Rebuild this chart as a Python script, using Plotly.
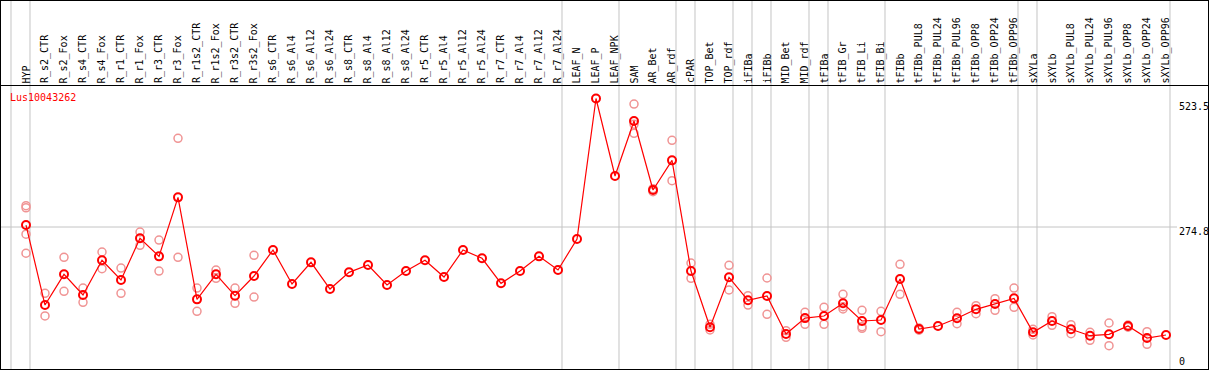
import plotly.graph_objects as go

# ---------------- data ----------------
categories = [
    "HYP", "R_s2_CTR", "R_s2_Fox", "R_s4_CTR", "R_s4_Fox", "R_r1_CTR", "R_r1_Fox",
    "R_r3_CTR", "R_r3_Fox", "R_r1s2_CTR", "R_r1s2_Fox", "R_r3s2_CTR", "R_r3s2_Fox",
    "R_s6_CTR", "R_s6_Al4", "R_s6_Al12", "R_s6_Al24", "R_s8_CTR", "R_s8_Al4",
    "R_s8_Al12", "R_s8_Al24", "R_r5_CTR", "R_r5_Al4", "R_r5_Al12", "R_r5_Al24",
    "R_r7_CTR", "R_r7_Al4", "R_r7_Al12", "R_r7_Al24", "LEAF_N", "LEAF_P", "LEAF_NPK",
    "SAM", "AR_Bet", "AR_rdf", "cPAR", "TOP_Bet", "TOP_rdf", "iFIBa", "iFIBb",
    "MID_Bet", "MID_rdf", "tFIBa", "tFIB_Gr", "tFIB_Li", "tFIB_Bi", "tFIBb",
    "tFIBb_PUL8", "tFIBb_PUL24", "tFIBb_PUL96", "tFIBb_OPP8", "tFIBb_OPP24",
    "tFIBb_OPP96", "sXYLa", "sXYLb", "sXYLb_PUL8", "sXYLb_PUL24", "sXYLb_PUL96",
    "sXYLb_OPP8", "sXYLb_OPP24", "sXYLb_OPP96",
]

mean_vals = [
    278.6, 123.8, 183.2, 143.2, 210.3, 172.2, 252.9, 218.0, 332.2, 134.8, 183.2,
    141.9, 180.0, 230.3, 164.5, 206.4, 154.8, 187.1, 201.2, 162.5, 189.6, 210.3,
    178.0, 230.3, 214.2, 165.8, 189.6, 218.0, 191.6, 251.6, 523.5, 373.5, 479.9,
    346.4, 403.8, 189.6, 80.7, 177.4, 132.9, 141.3, 67.7, 98.5, 102.6, 127.1,
    92.9, 94.8, 174.2, 77.4, 83.2, 98.1, 115.5, 125.8, 136.7, 71.0, 92.9, 76.8,
    64.4, 67.1, 83.2, 60.0, 65.8,
]

N = None
rep1 = [316.0, 146.4, 216.1, 156.7, 226.4, 195.4, 265.1, 249.6, 446.4, 156.7, 191.6,
        156.7, 220.0, N, N, N, N, N, N, N, N, N, N, N, N, N, N, N, N, N, N, N,
        512.8, 349.0, 442.5, 205.1, 86.4, 200.6, 141.9, 176.1, 74.1, 109.6, 119.3,
        144.5, 113.6, 111.6, 202.5, 79.5, N, 109.6, 122.5, 136.0, 156.7, 76.8,
        101.2, 85.7, 71.0, 89.0, 85.1, 72.2, N]
rep2 = [224.0, 102.6, 150.3, 129.0, 194.1, 146.4, 239.3, 189.6, 216.1, 111.6, 175.5,
        127.1, 139.3, N, N, N, N, N, N, N, N, N, N, N, N, N, N, N, N, N, N, N,
        456.1, 343.0, 364.4, 175.5, 75.5, 152.9, 123.8, 105.8, 61.3, 86.4, 86.4,
        116.1, 81.9, 72.2, 144.5, 75.0, N, 87.7, 107.1, 113.6, 119.3, 65.8,
        84.6, 68.3, 55.5, 45.1, 81.0, 47.8, N]
rep3 = [261.0, N, N, N, N, N, N, N, N, N, N, N, N, N, N, N, N, N, N, N, N, N, N, N,
        N, N, N, N, N, N, N, N, 473.5, N, N, N, N, N, N, N, N, N, N, 120.6, 78.8,
        N, N, N, N, N, N, N, N, N, N, N, N, N, N, N, N]
rep4 = [312.0] + [N] * 60

y_label_vals = [523.5, 274.8, 0]
y_labels = ["523.5", "274.8", "0"]
group_breaks = [-1, 0, 28, 31, 34, 35, 37, 38, 39, 41, 42, 45, 52, 53, 60]
gene_id = "Lus10043262"

# ---------------- layout geometry ----------------
W, H = 1209, 370
ML, MR, MT, MB = 1, 1, 85, 1
XMIN, XMAX = -1.316, 62.21
YMIN, YMAX = 0, 549.6


def px_x(X):
    return (X - ML) / (W - ML - MR)


def px_y(Y):
    return (H - MB - Y) / (H - MT - MB)


def data_to_paper_x(v):
    return (v - XMIN) / (XMAX - XMIN)


xs = list(range(len(categories)))

rx, ry = [], []
for reps in (rep1, rep2, rep3, rep4):
    for i, v in enumerate(reps):
        if v is not None:
            rx.append(i)
            ry.append(v)

fig = go.Figure()
fig.add_trace(go.Scatter(
    x=rx, y=ry, mode="markers",
    marker=dict(symbol="circle-open", size=8, color="#f09494", line=dict(width=1.5)),
    hoverinfo="skip", showlegend=False,
))
fig.add_trace(go.Scatter(
    x=xs, y=mean_vals, mode="lines+markers",
    line=dict(color="#ff0000", width=1.2),
    marker=dict(symbol="circle-open", size=8, color="#ff0000", line=dict(width=2)),
    showlegend=False, hovertext=categories,
))

shapes = []
# vertical group separators (through label area too)
for b in group_breaks:
    xp = data_to_paper_x(b + 0.21)
    shapes.append(dict(type="line", xref="paper", yref="paper",
                       x0=xp, x1=xp, y0=px_y(369), y1=px_y(0),
                       line=dict(color="#c4c4c4", width=1), layer="below"))
# horizontal mid gridline
shapes.append(dict(type="line", xref="paper", yref="y",
                   x0=px_x(1), x1=px_x(1177), y0=y_label_vals[1], y1=y_label_vals[1],
                   line=dict(color="#c4c4c4", width=1), layer="below"))
# frame
blk = dict(color="#000000", width=1)
shapes += [
    dict(type="line", xref="paper", yref="paper", x0=px_x(0), x1=px_x(1209),
         y0=px_y(0.5), y1=px_y(0.5), line=blk),
    dict(type="line", xref="paper", yref="paper", x0=px_x(0), x1=px_x(1209),
         y0=px_y(85.5), y1=px_y(85.5), line=blk),
    dict(type="line", xref="paper", yref="paper", x0=px_x(0), x1=px_x(1209),
         y0=px_y(369.5), y1=px_y(369.5), line=blk),
    dict(type="line", xref="paper", yref="paper", x0=px_x(0.5), x1=px_x(0.5),
         y0=px_y(0), y1=px_y(370), line=blk),
    dict(type="line", xref="paper", yref="paper", x0=px_x(1208.5), x1=px_x(1208.5),
         y0=px_y(0), y1=px_y(370), line=blk),
]

FONT = "DejaVu Sans Mono"
annotations = []
for i, c in enumerate(categories):
    annotations.append(dict(
        x=i, xref="x", y=px_y(84.5), yref="paper", text=c, showarrow=False,
        textangle=-90, xanchor="center", yanchor="bottom", borderpad=0,
        font=dict(family=FONT, size=10, color="#000000"),
    ))
label_tops = [100, 225, 355]
for t, yt in zip(y_labels, label_tops):
    annotations.append(dict(
        x=px_x(1178), xref="paper", y=px_y(yt), yref="paper", text=t,
        showarrow=False, xanchor="left", yanchor="top", borderpad=0,
        font=dict(family=FONT, size=10, color="#000000"),
    ))
annotations.append(dict(
    x=px_x(9), xref="paper", y=px_y(97), yref="paper", text=gene_id,
    showarrow=False, xanchor="left", yanchor="middle", borderpad=0,
    font=dict(family=FONT, size=10, color="#ff0000"),
))

fig.update_layout(
    width=W, height=H,
    margin=dict(l=ML, r=MR, t=MT, b=MB, pad=0),
    paper_bgcolor="#ffffff", plot_bgcolor="#ffffff",
    xaxis=dict(range=[XMIN, XMAX], visible=False, showgrid=False, zeroline=False, fixedrange=True),
    yaxis=dict(range=[YMIN, YMAX], visible=False, showgrid=False, zeroline=False, fixedrange=True),
    shapes=shapes, annotations=annotations,
)

fig.write_html("out.html", config={"displayModeBar": False},
               post_script="document.body.style.margin='0px';document.body.style.padding='0px';")
